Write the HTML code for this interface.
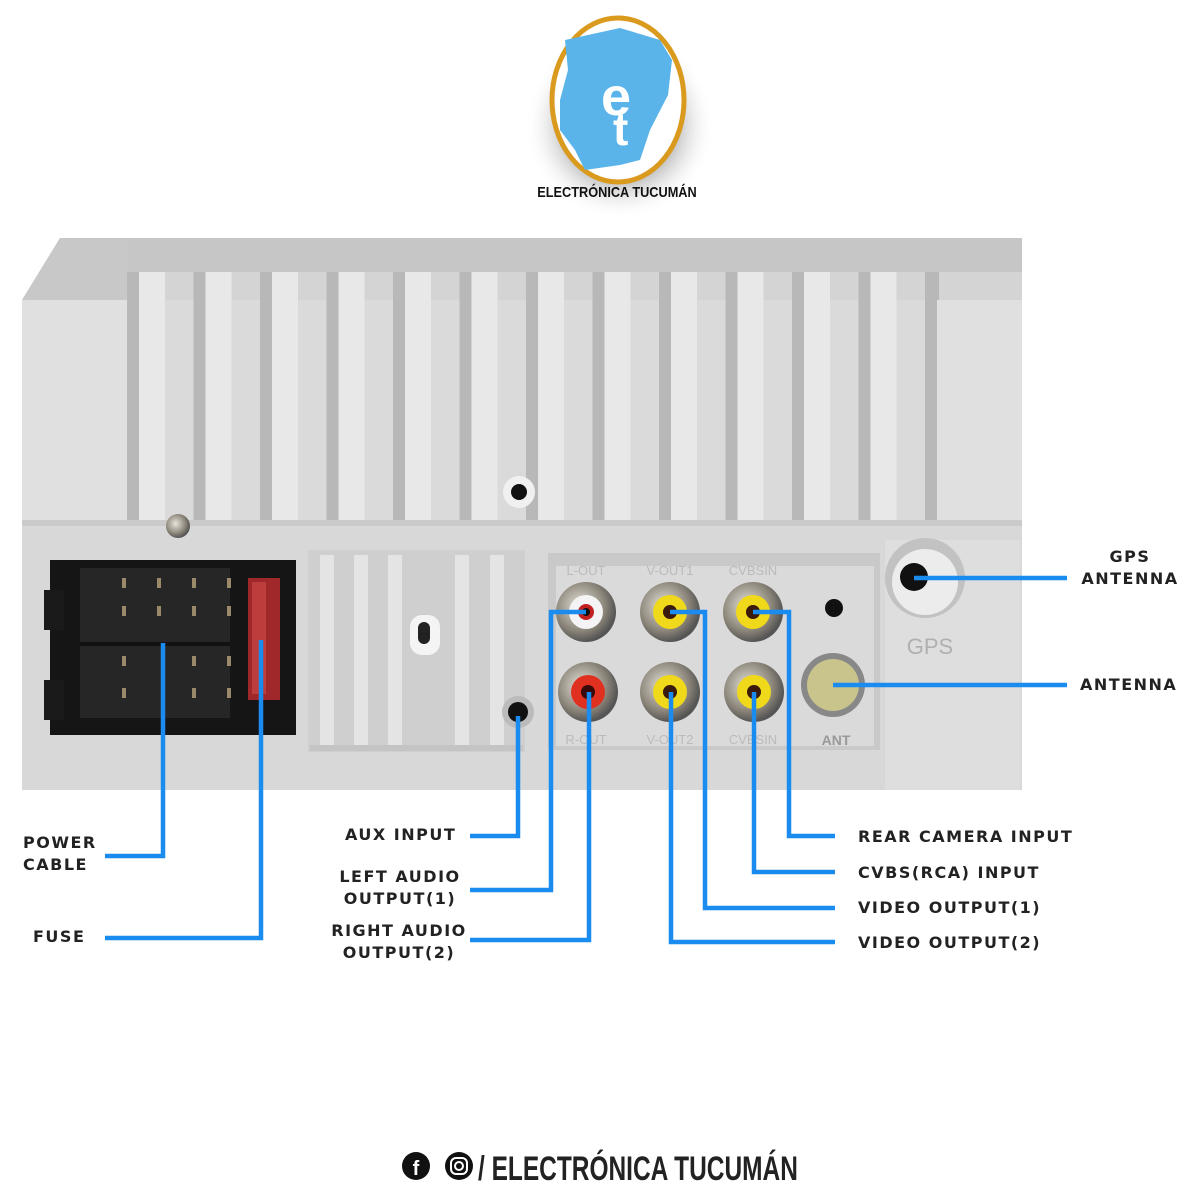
<!DOCTYPE html>
<html><head><meta charset="utf-8"><style>
html,body{margin:0;padding:0;background:#fff;}
body{width:1200px;height:1200px;overflow:hidden;position:relative;font-family:"Liberation Sans",sans-serif;}
.l{position:absolute;font-family:"DejaVu Sans","Liberation Sans",sans-serif;font-weight:bold;font-size:16px;letter-spacing:1.5px;color:#222;line-height:22px;}
</style></head><body>
<svg width="1200" height="1200" viewBox="0 0 1200 1200" style="position:absolute;left:0;top:0">
<defs>
<radialGradient id="sh" cx="50%" cy="50%" r="50%"><stop offset="60%" stop-color="#888" stop-opacity="0.5"/><stop offset="100%" stop-color="#fff" stop-opacity="0"/></radialGradient>
<radialGradient id="met" cx="40%" cy="40%" r="60%"><stop offset="0%" stop-color="#e8e4dc"/><stop offset="70%" stop-color="#8a8478"/><stop offset="100%" stop-color="#555"/></radialGradient>
</defs>
<ellipse cx="620" cy="125" rx="95" ry="95" fill="url(#sh)"/>
<ellipse cx="618" cy="100" rx="66" ry="82" fill="#fff" stroke="#d99a1e" stroke-width="5"/>
<path d="M565 40 L620 28 L660 40 L672 60 L668 95 L650 130 L640 160 L620 165 L585 170 L575 150 L560 130 L560 100 L568 70 Z" fill="#5ab4ea"/>
<text x="601" y="115" font-family="Liberation Sans" font-weight="bold" font-size="54" fill="#fff">e</text>
<text x="613" y="145" font-family="Liberation Sans" font-weight="bold" font-size="46" fill="#fff">t</text>
<text x="617" y="197" text-anchor="middle" font-family="Liberation Sans" font-weight="bold" font-size="15" fill="#111" transform="translate(617 0) scale(0.85 1) translate(-617 0)">ELECTRÓNICA TUCUMÁN</text>
<path d="M60 238 L1022 238 L1022 790 L22 790 L22 300 Z" fill="#d4d4d4"/>
<rect x="22" y="300" width="1000" height="225" fill="#dcdcdc"/>
<path d="M60 238 L1022 238 L1022 272 L40 272 Z" fill="#c6c6c6"/>
<path d="M60 238 L128 238 L128 300 L22 300 Z" fill="#c8c8c8"/>
<rect x="22" y="300" width="105" height="225" fill="#e0e0e0"/>
<g id="fins"></g>
<rect x="22" y="520" width="1000" height="270" fill="#d8d8d8"/>
<rect x="22" y="520" width="1000" height="6" fill="#cacaca"/>
<rect x="50" y="560" width="246" height="175" fill="#151515"/>
<rect x="44" y="590" width="20" height="40" fill="#1a1a1a"/>
<rect x="44" y="680" width="20" height="40" fill="#1a1a1a"/>
<rect x="80" y="568" width="150" height="150" fill="#262626"/>
<rect x="80" y="642" width="150" height="4" fill="#111"/>
<g fill="#9a8a6a"><rect x="122" y="578" width="4" height="10"/><rect x="157" y="578" width="4" height="10"/><rect x="192" y="578" width="4" height="10"/><rect x="227" y="578" width="4" height="10"/>
<rect x="122" y="606" width="4" height="10"/><rect x="157" y="606" width="4" height="10"/><rect x="192" y="606" width="4" height="10"/><rect x="227" y="606" width="4" height="10"/>
<rect x="122" y="656" width="4" height="10"/><rect x="192" y="656" width="4" height="10"/><rect x="227" y="656" width="4" height="10"/>
<rect x="122" y="688" width="4" height="10"/><rect x="192" y="688" width="4" height="10"/><rect x="227" y="688" width="4" height="10"/></g>
<rect x="248" y="578" width="32" height="122" fill="#a0282a"/>
<rect x="252" y="582" width="14" height="112" fill="#d04a4a" opacity="0.6"/>
<circle cx="178" cy="526" r="12" fill="url(#met)"/>
<circle cx="322" cy="668" r="14" fill="url(#met)"/>
<circle cx="474" cy="670" r="14" fill="url(#met)"/>
<circle cx="628" cy="650" r="11" fill="url(#met)"/>
<circle cx="710" cy="650" r="11" fill="url(#met)"/>
<rect x="308" y="550" width="217" height="202" fill="#cfcfcf"/>
<g fill="#e4e4e4"><rect x="320" y="555" width="14" height="190"/><rect x="354" y="555" width="14" height="190"/><rect x="388" y="555" width="14" height="190"/><rect x="455" y="555" width="14" height="190"/><rect x="490" y="555" width="14" height="190"/></g>
<rect x="410" y="615" width="30" height="40" rx="12" fill="#f4f4f4"/>
<rect x="418" y="622" width="12" height="22" rx="6" fill="#222"/>
<rect x="310" y="745" width="213" height="6" fill="#c4c4c4"/>
<circle cx="519" cy="492" r="16" fill="#f0f0f0"/><circle cx="519" cy="492" r="8" fill="#111"/>
<circle cx="518" cy="712" r="16" fill="#bbb"/><circle cx="518" cy="712" r="10" fill="#111"/>
<rect x="548" y="553" width="332" height="197" fill="#c9c9c9"/>
<rect x="556" y="566" width="318" height="180" fill="#dadada"/>
<g font-family="Liberation Sans" font-size="13" fill="#bbb" text-anchor="middle"><text x="586" y="575">L-OUT</text><text x="670" y="575">V-OUT1</text><text x="753" y="575">CVBSIN</text><text x="586" y="744">R-OUT</text><text x="670" y="744">V-OUT2</text><text x="753" y="744">CVBSIN</text></g>
<g>
<circle cx="586" cy="612" r="30" fill="url(#met)"/><circle cx="586" cy="612" r="17" fill="#f4f4f4"/><circle cx="586" cy="612" r="8" fill="#c02020"/><circle cx="586" cy="612" r="4" fill="#111"/>
<circle cx="670" cy="612" r="30" fill="url(#met)"/><circle cx="670" cy="612" r="17" fill="#f0d81a"/><circle cx="670" cy="612" r="7" fill="#3a1a0a"/>
<circle cx="753" cy="612" r="30" fill="url(#met)"/><circle cx="753" cy="612" r="17" fill="#f0d81a"/><circle cx="753" cy="612" r="7" fill="#3a1a0a"/>
<circle cx="588" cy="692" r="30" fill="url(#met)"/><circle cx="588" cy="692" r="17" fill="#e03020"/><circle cx="588" cy="692" r="7" fill="#3a0a0a"/>
<circle cx="670" cy="692" r="30" fill="url(#met)"/><circle cx="670" cy="692" r="17" fill="#f0d81a"/><circle cx="670" cy="692" r="7" fill="#3a1a0a"/>
<circle cx="754" cy="692" r="30" fill="url(#met)"/><circle cx="754" cy="692" r="17" fill="#f0d81a"/><circle cx="754" cy="692" r="7" fill="#3a1a0a"/>
</g>
<circle cx="834" cy="608" r="9" fill="#111"/>
<circle cx="833" cy="685" r="32" fill="#888"/><circle cx="833" cy="685" r="26" fill="#c8c48c"/>
<text x="836" y="745" font-family="Liberation Sans" font-weight="bold" font-size="14" fill="#999" text-anchor="middle">ANT</text>
<rect x="885" y="540" width="135" height="250" fill="#dedede"/>
<circle cx="925" cy="578" r="40" fill="#c2c2c2"/><circle cx="925" cy="582" r="33" fill="#ececec"/><circle cx="914" cy="577" r="14" fill="#111"/>
<text x="930" y="654" font-family="Liberation Sans" font-size="22" fill="#b0b0b0" text-anchor="middle">GPS</text>
<g stroke="#1a8cf0" stroke-width="4.5" fill="none" stroke-linejoin="miter">
<polyline points="914,578 1067,578"/>
<polyline points="833,685 1067,685"/>
<polyline points="163,643 163,856 105,856"/>
<polyline points="261,640 261,938 105,938"/>
<polyline points="518,716 518,836 470,836"/>
<polyline points="586,612 551,612 551,890 470,890"/>
<polyline points="589,692 589,940 470,940"/>
<polyline points="753,612 789,612 789,836 835,836"/>
<polyline points="754,692 754,872 835,872"/>
<polyline points="670,612 705,612 705,908 835,908"/>
<polyline points="671,692 671,942 835,942"/>
</g>
<circle cx="416" cy="1166" r="14" fill="#111"/><text x="416" y="1175" text-anchor="middle" font-family="Liberation Sans" font-weight="bold" font-size="20" fill="#fff">f</text>
<circle cx="459" cy="1166" r="14" fill="#111"/><rect x="451" y="1158" width="16" height="16" rx="5" fill="none" stroke="#fff" stroke-width="2"/><circle cx="459" cy="1166" r="4" fill="none" stroke="#fff" stroke-width="2"/>
<text x="478" y="1180" font-family="Liberation Sans" font-weight="bold" font-size="34" fill="#222" transform="translate(478 0) scale(0.72 1) translate(-478 0)">/ ELECTRÓNICA TUCUMÁN</text>
</svg>
<script>
var g=document.getElementById('fins'),s='';
for(var i=0;i<12;i++){var x=127+i*66.5;
s+='<rect x="'+x+'" y="272" width="14" height="250" fill="#b8b8b8"/>';
s+='<rect x="'+(x+12)+'" y="272" width="26" height="250" fill="#e8e8e8"/>';
s+='<rect x="'+(x+38)+'" y="300" width="29" height="222" fill="#dadada"/>';}
s+='<rect x="925" y="272" width="14" height="250" fill="#b8b8b8"/><rect x="937" y="300" width="85" height="222" fill="#e0e0e0"/>';
g.innerHTML=s;
</script>
<div class="l" style="left:1080px;top:546px;text-align:center;width:100px">GPS<br>ANTENNA</div>
<div class="l" style="left:1080px;top:674px">ANTENNA</div>
<div class="l" style="left:23px;top:832px">POWER<br>CABLE</div>
<div class="l" style="left:33px;top:926px">FUSE</div>
<div class="l" style="left:345px;top:824px">AUX INPUT</div>
<div class="l" style="left:335px;top:866px;text-align:center;width:130px">LEFT AUDIO<br>OUTPUT(1)</div>
<div class="l" style="left:328px;top:920px;text-align:center;width:142px">RIGHT AUDIO<br>OUTPUT(2)</div>
<div class="l" style="left:858px;top:826px">REAR CAMERA INPUT</div>
<div class="l" style="left:858px;top:862px">CVBS(RCA) INPUT</div>
<div class="l" style="left:858px;top:897px">VIDEO OUTPUT(1)</div>
<div class="l" style="left:858px;top:932px">VIDEO OUTPUT(2)</div>
</body></html>
